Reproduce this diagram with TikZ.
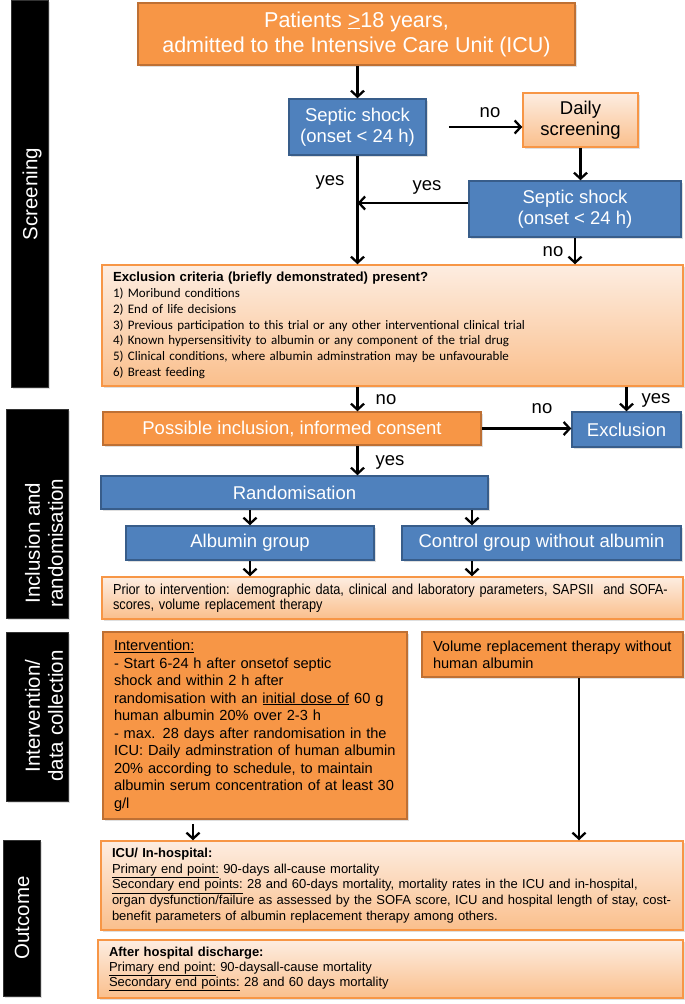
\documentclass[tikz,border=0pt]{standalone}
\usepackage{fontspec}
\setmainfont{Liberation Sans}
\newfontfamily\calib{Carlito}
\newfontfamily\narrowf[FakeStretch=0.88]{Liberation Sans}
\usetikzlibrary{arrows.meta,shadows}
\definecolor{orgfill}{HTML}{F79646}
\definecolor{orgdraw}{HTML}{BE7034}
\definecolor{bluefill}{HTML}{4F81BD}
\definecolor{bluedraw}{HTML}{385D8A}
\definecolor{lighttop}{HTML}{FDEDE1}
\definecolor{lightbot}{HTML}{FABF8C}
\definecolor{lightdraw}{HTML}{F79646}
\begin{document}
\begin{tikzpicture}[x=1pt,y=-1pt,
  base/.style={rectangle, inner sep=0pt, line width=1.5pt,
    drop shadow={shadow xshift=1.5pt, shadow yshift=-1.5pt, opacity=0.25}},
  orangebox/.style={base, fill=orgfill, draw=orgdraw, text=white},
  bluebox/.style={base, fill=bluefill, draw=bluedraw, text=white},
  lightbox/.style={base, top color=lighttop, bottom color=lightbot, draw=lightdraw, text=black},
  bigtxt/.style={font=\fontsize{18.5}{21}\selectfont, align=center},
  lbl/.style={font=\fontsize{18.5}{21}\selectfont, inner sep=0pt},
  arr/.style={line width=2.3pt, -{Straight Barb[length=6pt,width=13pt]}},
  sidebar/.style={rectangle, fill=black, draw=black!80, line width=0.6pt, inner sep=0pt,
    drop shadow={shadow xshift=1.5pt, shadow yshift=-1.5pt, opacity=0.25}},
  sidetxt/.style={text=white, rotate=90, inner sep=0pt, align=center,
    font=\fontsize{20.5}{23}\selectfont}
]
\useasboundingbox (0,0) rectangle (685,1004);

% sidebars
\node[sidebar, minimum width=37pt, minimum height=387pt] (bar1) at (29.5,193.5) {};
\node[sidetxt] (t1) at (32,194) {Screening};
\node[sidebar, minimum width=62pt, minimum height=209pt] (bar2) at (37,513.5) {};
\node[sidetxt] (t2) at (44,543) {Inclusion and\\randomisation};
\node[sidebar, minimum width=62pt, minimum height=169pt] (bar3) at (37,716.5) {};
\node[sidetxt] (t3) at (44,716) {Intervention/\\data collection};
\node[sidebar, minimum width=37pt, minimum height=156pt] (bar4) at (21.5,918) {};
\node[sidetxt] (t4) at (22,918) {Outcome};

% boxes
\node[orangebox, minimum width=437pt, minimum height=62pt, align=center,
  font=\fontsize{21.5}{25}\selectfont] (pat) at (356.5,34)
  {Patients \underline{>}18 years,\\admitted to the Intensive Care Unit (ICU)};
\node[bluebox, bigtxt, minimum width=137pt, minimum height=56pt] (ss1) at (357.5,127)
  {Septic shock\\(onset < 24 h)};
\node[lightbox, bigtxt, minimum width=115pt, minimum height=54pt] (daily) at (580.5,120)
  {Daily\\screening};
\node[bluebox, bigtxt, minimum width=212pt, minimum height=56pt] (ss2) at (575,209)
  {Septic shock\\(onset < 24 h)};

\node[lightbox, minimum width=581pt, minimum height=121pt, inner xsep=11pt,
  text width=559pt, align=left, font=\calib\fontsize{13}{15.8}\selectfont] (excl) at (392.5,325.5)
  {{\rmfamily\bfseries\fontsize{13.2}{15.8}\selectfont Exclusion criteria (briefly demonstrated) present?}\\
   1) Moribund conditions\\
   2) End of life decisions\\
   3) Previous participation to this trial or any other interventional clinical trial\\
   4) Known hypersensitivity to albumin or any component of the trial drug\\
   5) Clinical conditions, where albumin adminstration may be unfavourable\\
   6) Breast feeding};

\node[orangebox, bigtxt, minimum width=378pt, minimum height=33pt] (poss) at (292,428.5)
  {Possible inclusion, informed consent};
\node[bluebox, bigtxt, minimum width=109pt, minimum height=35pt] (exc) at (626.5,429.5)
  {Exclusion};
\node[bluebox, bigtxt, minimum width=387pt, minimum height=33pt] (rand) at (294.5,492.5)
  {Randomisation};
\node[bluebox, bigtxt, minimum width=248pt, minimum height=34pt] (alb) at (250,543)
  {Albumin group};
\node[bluebox, bigtxt, minimum width=279pt, minimum height=34pt] (ctrl) at (541.5,543)
  {Control group without albumin};

\node[lightbox, minimum width=581pt, minimum height=42pt, inner xsep=11pt,
  text width=559pt, align=left, font=\narrowf\fontsize{14.5}{15.3}\selectfont] (prior) at (392.5,598)
  {\mbox{Prior to intervention: demographic data, clinical and laboratory parameters, SAPSII\ \ and SOFA-}\\
   \mbox{scores, volume replacement therapy}};

\node[orangebox, text=black, minimum width=304pt, minimum height=187pt, inner xsep=11pt,
  text width=282pt, align=left, font=\fontsize{14.6}{17.5}\selectfont] (intv) at (255,725.5)
  {\underline{Intervention:}\\
   - Start 6-24 h after onsetof septic\\
   shock and within 2 h after\\
   randomisation with an \underline{initial dose of} 60 g\\
   human albumin 20\% over 2-3 h\\
   - max. 28 days after randomisation in the\\
   ICU: Daily adminstration of human albumin\\
   20\% according to schedule, to maintain\\
   albumin serum concentration of at least 30\\
   g/l};

\node[orangebox, text=black, minimum width=261pt, minimum height=45pt, inner xsep=11pt,
  text width=239pt, align=left, font=\fontsize{14.6}{17}\selectfont] (vol) at (552.5,654.5)
  {Volume replacement therapy without\\human albumin};

\node[lightbox, minimum width=582pt, minimum height=89pt, inner xsep=11pt,
  text width=560pt, align=left, font=\fontsize{13}{15.7}\selectfont] (icu) at (392,885.5)
  {\textbf{ICU/ In-hospital:}\\
   \underline{Primary end point:} 90-days all-cause mortality\\
   \underline{Secondary end points:} 28 and 60-days mortality, mortality rates in the ICU and in-hospital,\\
   organ dysfunction/failure as assessed by the SOFA score, ICU and hospital length of stay, cost-\\
   benefit parameters of albumin replacement therapy among others.};

\node[lightbox, minimum width=585pt, minimum height=58pt, inner xsep=11pt,
  text width=563pt, align=left, font=\fontsize{13}{15}\selectfont] (after) at (390.5,969)
  {\textbf{After hospital discharge:}\\
   \underline{Primary end point:} 90-daysall-cause mortality\\
   \underline{Secondary end points:} 28 and 60 days mortality};

% helper coordinates
\path ([yshift=6pt]ss2.west) coordinate (ss2w);
\coordinate (cx) at (472,0);
\coordinate (ix) at (193,0);
\coordinate (vx) at (579,0);
\path (ix |- intv.south) ++(0,4) coordinate (ib);

% connectors
\draw[arr] (ss1.north |- pat.south) -- (ss1.north);
\draw[arr] ([xshift=22pt]ss1.east) -- (daily.west |- ss1.east);
\draw[arr] (daily.south) -- (daily.south |- ss2.north);
\draw[arr] (ss2w) -- (ss1.south |- ss2w);
\draw[arr] (ss1.south) -- (ss1.south |- excl.north);
\draw[arr] (ss2.south) -- (ss2.south |- excl.north);
\draw[arr] (ss1.south |- excl.south) -- (ss1.south |- poss.north);
\draw[arr] (exc.north |- excl.south) -- (exc.north);
\draw[arr] (poss.east) -- (exc.west |- poss.east);
\draw[arr] (ss1.south |- poss.south) -- (ss1.south |- rand.north);
\draw[arr] (alb.north |- rand.south) -- (alb.north);
\draw[arr] (cx |- rand.south) -- (cx |- ctrl.north);
\draw[arr] (alb.south) -- (alb.south |- prior.north);
\draw[arr] (cx |- ctrl.south) -- (cx |- prior.north);
\draw[arr] (ib) -- (ib |- icu.north);
\draw[arr] (vx |- vol.south) -- (vx |- icu.north);

% labels
\node[lbl] (l1) at (490,113) {no};
\node[lbl] (l2) at (330,182) {yes};
\node[lbl] (l3) at (427,187) {yes};
\node[lbl] (l4) at (553,252) {no};
\node[lbl] (l5) at (386,400) {no};
\node[lbl] (l6) at (656,400) {yes};
\node[lbl] (l7) at (542,409) {no};
\node[lbl] (l8) at (390,462) {yes};
\end{tikzpicture}
\end{document}
